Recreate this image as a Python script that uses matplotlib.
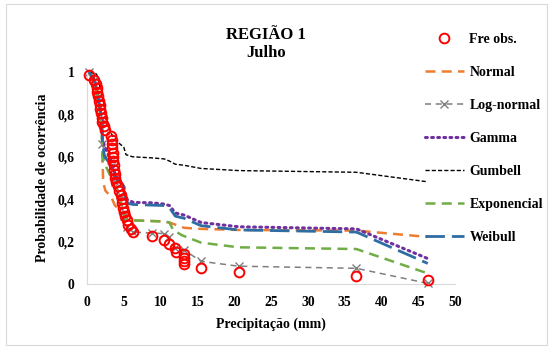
import matplotlib
matplotlib.use('Agg')
import matplotlib.pyplot as plt
from matplotlib.patches import Rectangle

plt.rcParams['font.family'] = ['Liberation Serif', 'DejaVu Serif']
plt.rcParams['font.weight'] = 'bold'

# observed exceedance frequencies
obs_x = [0.3, 1.0, 1.2, 1.3, 1.4, 1.5, 1.6, 1.7, 1.8, 1.9, 2.0, 2.1, 2.3, 2.5,
         3.3, 3.35, 3.4, 3.45, 3.5, 3.55, 3.6, 3.65, 3.7, 3.75, 3.8, 3.9,
         4.2, 4.4, 4.6, 4.7, 4.8, 4.9, 5.0, 5.2, 5.4, 5.6, 6.0, 6.3, 8.8,
         10.5, 11.2, 11.9, 12.1, 13.2, 13.2, 13.2, 13.2, 15.5, 20.6, 36.6, 46.3]
obs_y = [0.985, 0.96, 0.945, 0.925, 0.905, 0.885, 0.865, 0.845, 0.825, 0.805,
         0.785, 0.765, 0.745, 0.725, 0.70, 0.68, 0.66, 0.64, 0.62, 0.60, 0.58,
         0.56, 0.54, 0.52, 0.50, 0.48, 0.46, 0.44, 0.42, 0.40, 0.38, 0.36,
         0.34, 0.32, 0.30, 0.28, 0.26, 0.245, 0.225, 0.207, 0.19, 0.168, 0.15,
         0.14, 0.125, 0.107, 0.092, 0.075, 0.055, 0.04, 0.02]

# fitted distributions
normal_x = [0.3, 1.0, 1.5, 2.0, 2.1, 2.2, 2.5, 3.3, 3.8, 4.5, 5.5, 6.3, 10.5,
            11.2, 13.2, 15.5, 20.6, 36.6, 46.3]
normal_y = [0.99, 0.96, 0.90, 0.78, 0.60, 0.48, 0.44, 0.41, 0.37, 0.35, 0.31,
            0.30, 0.295, 0.29, 0.265, 0.26, 0.255, 0.252, 0.222]

lognorm_x = [0.3, 1.0, 1.5, 2.0, 2.1, 2.5, 3.3, 3.8, 4.5, 5.0, 5.4, 6.3, 8.8,
             10.5, 11.2, 12.0, 13.2, 15.5, 20.6, 36.6, 46.3]
lognorm_y = [1.0, 0.96, 0.88, 0.78, 0.66, 0.60, 0.55, 0.48, 0.42, 0.32, 0.27,
             0.245, 0.24, 0.238, 0.22, 0.17, 0.16, 0.107, 0.084, 0.074, 0.003]

gamma_x = [0.3, 1.0, 1.5, 2.0, 2.1, 2.5, 3.3, 3.8, 4.5, 5.0, 5.3, 6.3, 8.8,
           10.5, 11.2, 12.0, 13.2, 15.5, 20.6, 36.6, 46.3]
gamma_y = [1.0, 0.96, 0.88, 0.78, 0.68, 0.64, 0.58, 0.52, 0.48, 0.46, 0.40,
           0.385, 0.383, 0.377, 0.37, 0.335, 0.325, 0.29, 0.27, 0.26, 0.12]

gumbel_x = [0.3, 1.3, 2.0, 2.5, 2.9, 3.3, 3.8, 4.5, 5.0, 5.3, 6.2, 8.8, 10.5,
            11.2, 12.0, 13.2, 15.5, 20.6, 36.6, 46.3]
gumbel_y = [1.0, 0.99, 0.90, 0.81, 0.75, 0.71, 0.68, 0.66, 0.645, 0.61, 0.60,
            0.595, 0.59, 0.58, 0.565, 0.56, 0.545, 0.535, 0.527, 0.482]

expon_x = [0.3, 1.0, 1.5, 2.0, 2.1, 2.5, 3.3, 3.8, 4.5, 5.0, 5.4, 6.3, 10.5,
           11.2, 11.7, 12.9, 15.5, 20.6, 36.6, 46.3]
expon_y = [1.0, 0.96, 0.88, 0.74, 0.60, 0.56, 0.50, 0.45, 0.40, 0.33, 0.30,
           0.30, 0.295, 0.29, 0.255, 0.23, 0.195, 0.173, 0.165, 0.05]

weibull_x = [0.3, 1.0, 1.5, 2.0, 2.1, 2.4, 3.3, 3.8, 4.7, 5.0, 5.2, 5.6, 6.3,
             10.5, 11.2, 12.0, 13.2, 15.5, 20.6, 36.6, 46.3]
weibull_y = [1.0, 0.96, 0.88, 0.78, 0.66, 0.60, 0.56, 0.50, 0.475, 0.46, 0.40,
             0.38, 0.375, 0.37, 0.36, 0.32, 0.31, 0.275, 0.255, 0.245, 0.097]

fig = plt.figure(figsize=(5.53, 3.49), dpi=100)
fig.patches.append(Rectangle((6 / 553, 4 / 349), 541 / 553, 341 / 349,
                             transform=fig.transFigure, fill=False,
                             edgecolor='#D9D9D9', lw=0.8))
ax = fig.add_axes([87 / 553, 1 - 284 / 349, 368 / 553, 212 / 349])

ax.plot(normal_x, normal_y, color='#ED7D31', lw=1.8, ls=(0, (4, 2.5)), label='Normal')
ax.plot(lognorm_x, lognorm_y, color='#7F7F7F', lw=1.1, ls=(0, (4, 3)),
        marker='x', ms=6, mew=1.0, label='Log-normal', clip_on=False)
ax.plot(gamma_x, gamma_y, color='#7030A0', lw=2.2, ls=(0, (0.6, 1.4)),
        dash_capstyle='round', label='Gamma')
ax.plot(gumbel_x, gumbel_y, color='black', lw=1.0, ls=(0, (3, 1.5)), label='Gumbell')
ax.plot(expon_x, expon_y, color='#70AD47', lw=1.8, ls=(0, (4, 2.5)), label='Exponencial')
ax.plot(weibull_x, weibull_y, color='#2E6DA4', lw=2.0, ls=(0, (7, 2.5)), label='Weibull')
ax.plot(obs_x, obs_y, ls='none', marker='o', ms=7, mfc='none', mec='#FF0000',
        mew=1.4, label='Fre obs.', clip_on=False, zorder=5)

ax.set_xlim(0, 50)
ax.set_ylim(0, 1)
ax.set_xticks(range(0, 51, 5))
yt = [0, 0.2, 0.4, 0.6, 0.8, 1]
ax.set_yticks(yt)
ax.set_yticklabels([f'{v:g}'.replace('.', ',') for v in yt])
ax.tick_params(length=0, labelsize=9.8, pad=9)
for s in ['top', 'right']:
    ax.spines[s].set_visible(False)
for s in ['left', 'bottom']:
    ax.spines[s].set_color('#D9D9D9')
    ax.spines[s].set_linewidth(0.8)

ax.set_xlabel('Precipitação (mm)', fontsize=10, fontweight='bold', labelpad=6)
ax.set_ylabel('Probabilidade de ocorrência', fontsize=10, fontweight='bold', labelpad=6)

fig.text(266 / 553, 1 - 35 / 349, 'REGIÃO 1', ha='center', va='center',
         fontsize=12, fontweight='bold')
fig.text(266 / 553, 1 - 53 / 349, 'Julho', ha='center', va='center',
         fontsize=12, fontweight='bold')

handles, labels = ax.get_legend_handles_labels()
order = [6, 0, 1, 2, 3, 4, 5]
leg = fig.legend([handles[i] for i in order], [labels[i] for i in order],
                 loc='upper left', bbox_to_anchor=(425 / 553, 1 - 33 / 349),
                 frameon=False, fontsize=10, handlelength=2.8,
                 handletextpad=0.4, labelspacing=1.44, borderpad=0,
                 borderaxespad=0)
for t in leg.get_texts():
    t.set_fontweight('bold')

fig.savefig('out.png', dpi=100)
